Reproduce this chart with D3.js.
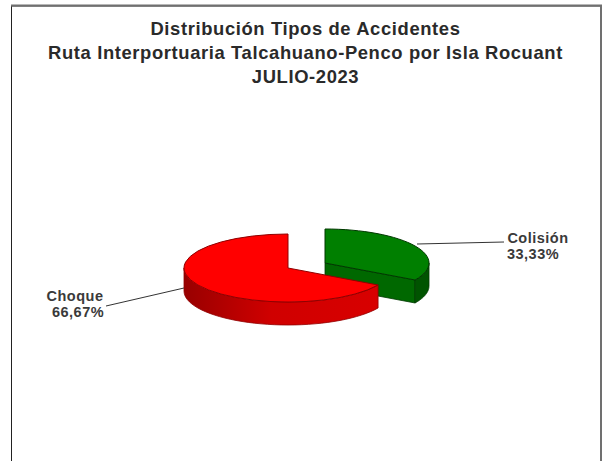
<!DOCTYPE html>
<html>
<head>
<meta charset="utf-8">
<script src="https://cdn.jsdelivr.net/npm/d3@7"></script>
<style>
html, body { margin: 0; padding: 0; background: #fff; overflow: hidden; }
svg { display: block; }
</style>
</head>
<body>
<svg width="605" height="461"></svg>
<script>
// chart data
const categories = ['Colisión', 'Choque'];
const values = [33.33, 66.67];
const labels = ['33,33%', '66,67%'];
const titleLines = [
  'Distribución Tipos de Accidentes',
  'Ruta Interportuaria Talcahuano-Penco por Isla Rocuant',
  'JULIO-2023'
];

const rx = 104, ry = 34, depth = 23;
// each slice is pulled away from the shared centre
const centers = [[325, 263], [288, 268]];
const topColor = ['#007f00', '#ff0000'];
const wallColor = ['#005400', '#c00000'];
const edgeColor = ['#003800', '#900000'];
const labelPos = [[538, 243], [75, 301]];
const leaders = [[[417, 244], [504, 242]], [[184, 288], [106, 306]]];

const svg = d3.select('svg');

// chart frame
svg.append('rect').attr('x', 11.5).attr('y', 6).attr('width', 589).attr('height', 470)
  .attr('fill', '#fff').attr('stroke', '#222').attr('stroke-width', 1);
svg.append('path').attr('d', 'M11,5.5H601V461').attr('fill', 'none')
  .attr('stroke', '#707070').attr('stroke-width', 2);

const title = svg.append('g').attr('text-anchor', 'middle')
  .attr('font-family', 'Liberation Sans, Arial, sans-serif')
  .attr('font-weight', 'bold').attr('font-size', 18.4)
  .attr('letter-spacing', 0.62).attr('fill', '#2a2a2a');
titleLines.forEach((t, i) => {
  title.append('text').attr('x', 305.5).attr('y', 34.5 + i * 24.3).text(t);
});

// clockwise from 12 o'clock, first slice first
const pie = d3.pie().sort(null).value(d => d);
const arcs = pie(values);

const px = (c, a) => c[0] + rx * Math.sin(a);
const py = (c, a) => c[1] - ry * Math.cos(a);

function wall(c, a0, a1) {
  // outer rim between two angles, sampled along the ellipse
  const angles = d3.range(0, 41).map(k => a0 + (a1 - a0) * k / 40);
  const p = d3.path();
  angles.forEach((a, k) => {
    if (k === 0) p.moveTo(px(c, a), py(c, a)); else p.lineTo(px(c, a), py(c, a));
  });
  angles.slice().reverse().forEach(a => p.lineTo(px(c, a), py(c, a) + depth));
  p.closePath();
  return p.toString();
}

const arc = d3.arc().innerRadius(0).outerRadius(rx);
const defs = svg.append('defs');
const grad = defs.append('linearGradient').attr('id', 'redWall');
grad.append('stop').attr('offset', '0%').attr('stop-color', '#980000');
grad.append('stop').attr('offset', '45%').attr('stop-color', '#d00000');
grad.append('stop').attr('offset', '100%').attr('stop-color', '#d80000');

arcs.forEach((d, i) => {
  const c = centers[i];
  const g = svg.append('g');
  // cut face facing the viewer, only on the green slice
  if (i === 0) {
    const a = d.endAngle;
    g.append('path')
      .attr('d', d3.line()([[c[0], c[1]], [px(c, a), py(c, a)], [px(c, a), py(c, a) + depth], [c[0], c[1] + depth]]) + 'Z')
      .attr('fill', '#006800').attr('stroke', edgeColor[i]).attr('stroke-width', 0.8);
  }
  const from = Math.max(d.startAngle, Math.PI / 2);
  const to = Math.min(d.endAngle, Math.PI * 1.5);
  g.append('path').attr('d', wall(c, from, to))
    .attr('fill', i === 1 ? 'url(#redWall)' : wallColor[i])
    .attr('stroke', edgeColor[i]).attr('stroke-width', 0.8);
  g.append('path').attr('d', arc(d))
    .attr('transform', `translate(${c[0]},${c[1]}) scale(1,${ry / rx})`)
    .attr('fill', topColor[i]).attr('stroke', edgeColor[i])
    .attr('stroke-width', 1).attr('vector-effect', 'non-scaling-stroke');
});

leaders.forEach(l => {
  svg.append('path').attr('d', d3.line()(l)).attr('fill', 'none')
    .attr('stroke', '#333').attr('stroke-width', 1);
});

categories.forEach((name, i) => {
  const t = svg.append('text').attr('text-anchor', 'middle')
    .attr('font-family', 'Liberation Sans, Arial, sans-serif')
    .attr('font-weight', 'bold').attr('font-size', 14.5)
    .attr('letter-spacing', 0.5).attr('fill', '#3a3a3a');
  t.append('tspan').attr('x', labelPos[i][0]).attr('y', labelPos[i][1]).text(name);
  t.append('tspan').attr('x', labelPos[i][0] + (i === 0 ? -5 : 3)).attr('y', labelPos[i][1] + 16).text(labels[i]);
});
</script>
</body>
</html>
